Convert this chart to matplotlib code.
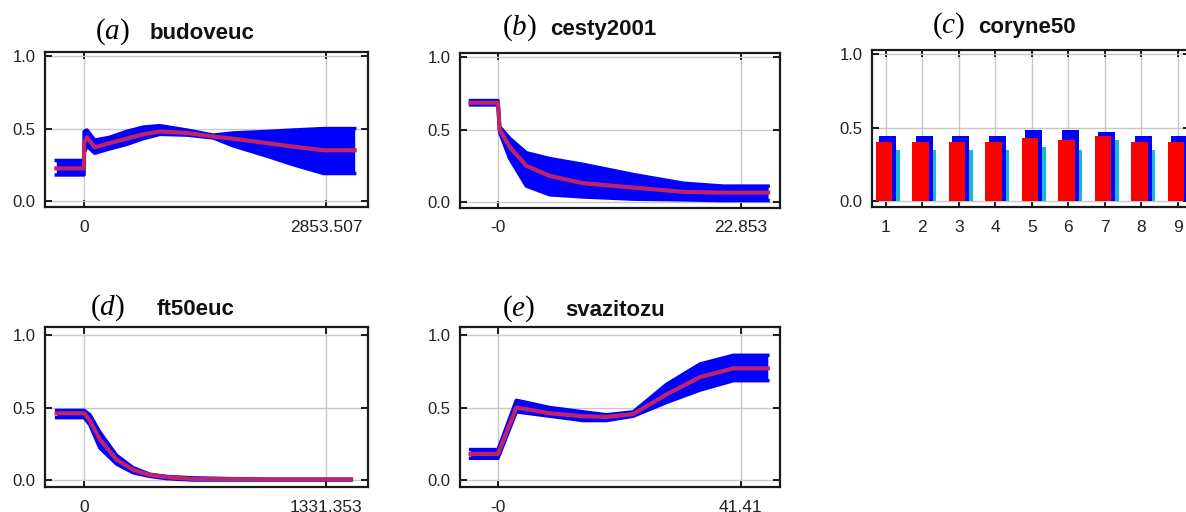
import matplotlib
matplotlib.use("Agg")
import matplotlib.pyplot as plt

plt.rcParams['font.family'] = ['Liberation Sans', 'DejaVu Sans']
plt.rcParams['mathtext.fontset'] = 'custom'
plt.rcParams['mathtext.rm'] = 'Liberation Serif'
plt.rcParams['mathtext.it'] = 'Liberation Serif:italic'

# (a) budoveuc
a_x = [-327, 0, 1, 35, 126, 303, 500, 698, 895, 1210, 1525, 1762, 2156, 2471, 2826, 3192]
a_mean = [0.225, 0.225, 0.40, 0.44, 0.37, 0.40, 0.43, 0.46, 0.48, 0.47, 0.445, 0.43, 0.40, 0.375, 0.35, 0.35]
a_hi = [0.28, 0.28, 0.48, 0.49, 0.42, 0.44, 0.48, 0.51, 0.52, 0.49, 0.455, 0.47, 0.48, 0.49, 0.50, 0.50]
a_lo = [0.18, 0.18, 0.33, 0.38, 0.33, 0.36, 0.39, 0.43, 0.46, 0.455, 0.435, 0.38, 0.31, 0.25, 0.19, 0.19]

# (b) cesty2001
b_x = [-2.58, 0, 0.16, 1.10, 2.67, 4.87, 8.01, 12.73, 17.44, 21.2, 25.4]
b_mean = [0.685, 0.685, 0.50, 0.38, 0.25, 0.18, 0.13, 0.10, 0.07, 0.065, 0.065]
b_hi = [0.70, 0.70, 0.52, 0.44, 0.34, 0.30, 0.26, 0.19, 0.13, 0.11, 0.11]
b_lo = [0.67, 0.67, 0.48, 0.30, 0.11, 0.05, 0.035, 0.02, 0.015, 0.01, 0.01]

# (c) coryne50
c_cats = [1, 2, 3, 4, 5, 6, 7, 8, 9]
c_red = [0.40, 0.40, 0.40, 0.40, 0.43, 0.415, 0.445, 0.40, 0.40]
c_blue = [0.445, 0.445, 0.445, 0.445, 0.485, 0.485, 0.47, 0.445, 0.445]
c_cyan = [0.35, 0.35, 0.35, 0.35, 0.365, 0.35, 0.415, 0.35, 0.35]

# (d) ft50euc
d_x = [-152, 0, 31, 86, 178, 269, 361, 452, 599, 1002, 1468]
d_mean = [0.46, 0.46, 0.41, 0.28, 0.14, 0.07, 0.035, 0.02, 0.007, 0.005, 0.005]
d_hi = [0.48, 0.48, 0.45, 0.33, 0.17, 0.085, 0.04, 0.025, 0.015, 0.005, 0.005]
d_lo = [0.43, 0.43, 0.38, 0.22, 0.11, 0.05, 0.025, 0.01, 0.0, 0.0, 0.0]

# (e) svazitozu
e_x = [-4.67, 0, 3.13, 8.83, 14.52, 18.51, 23.07, 28.76, 34.46, 40.16, 46.02]
e_mean = [0.18, 0.18, 0.50, 0.46, 0.44, 0.435, 0.455, 0.59, 0.71, 0.77, 0.77]
e_hi = [0.21, 0.21, 0.55, 0.50, 0.47, 0.45, 0.47, 0.66, 0.80, 0.86, 0.86]
e_lo = [0.15, 0.15, 0.47, 0.44, 0.41, 0.41, 0.44, 0.535, 0.62, 0.685, 0.685]

W, H = 1186, 512
fig = plt.figure(figsize=(W / 100, H / 100), dpi=100)

BLUE = '#0000ff'
MEAN = '#c02466'


def add_box(l, t, r, b):
    return fig.add_axes([l / W, 1 - b / H, (r - l) / W, (b - t) / H])


def style(ax, ylim):
    for s in ax.spines.values():
        s.set_linewidth(1.6)
        s.set_color('#1a1a1a')
    ax.tick_params(direction='in', length=5, width=1.4, top=True, right=True,
                   labelcolor='#222222', color='#1a1a1a')
    ax.tick_params(axis='x', pad=9, labelsize=12.5)
    ax.tick_params(axis='y', pad=7, labelsize=12)
    ax.set_ylim(ylim)
    ax.set_yticks([0, 0.5, 1.0])
    ax.set_yticklabels(['0.0', '0.5', '1.0'])
    ax.grid(True, color='#c8c8c8', lw=1)
    ax.set_axisbelow(True)


def band(ax, x, lo, hi, mean, xlabs, xmax, xlim, ylim):
    style(ax, ylim)
    ax.fill_between(x, lo, hi, color=BLUE, lw=0)
    ax.plot(x, lo, color=BLUE, lw=2.5)
    ax.plot(x, hi, color=BLUE, lw=2.5)
    ax.plot(x, mean, color=MEAN, lw=3)
    ax.set_xlim(xlim)
    ax.set_xticks([0, xmax])
    ax.set_xticklabels(xlabs)


def title(x, y, tag, name, gap):
    fig.text(x / W, 1 - y / H, '$(' + tag + ')$', fontsize=21, va='baseline')
    fig.text((x + gap) / W, 1 - y / H, name, fontsize=16, fontweight='bold',
             va='baseline', color='#111111')


top_ylim = (-0.041, 1.028)
bot_ylim = (-0.048, 1.055)

ax = add_box(45, 52, 368, 207)
band(ax, a_x, a_lo, a_hi, a_mean, ['0', '2853.507'], 2853.507, (-460, 3349), top_ylim)
title(95, 39, 'a', 'budoveuc', 55)

ax = add_box(460, 53, 780, 208)
band(ax, b_x, b_lo, b_hi, b_mean, ['-0', '22.853'], 22.853, (-3.57, 26.52), top_ylim)
title(502, 35, 'b', 'cesty2001', 48)

ax = add_box(872, 50, 1190, 207)
style(ax, top_ylim)
w = 0.46
ax.bar([c + 0.15 for c in c_cats], c_cyan, width=w, color='#19b9d6', lw=0)
ax.bar([c + 0.05 for c in c_cats], c_blue, width=w, color=BLUE, lw=0)
ax.bar([c - 0.05 for c in c_cats], c_red, width=w, color='#ff0000', lw=0)
ax.set_xlim(0.62, 0.62 + 318 / 36.5)
ax.set_xticks(c_cats)
ax.set_xticklabels([str(c) for c in c_cats])
title(932, 33, 'c', 'coryne50', 46)

ax = add_box(45, 327, 368, 487)
band(ax, d_x, d_lo, d_hi, d_mean, ['0', '1331.353'], 1331.353, (-216, 1561), bot_ylim)
title(90, 315, 'd', 'ft50euc', 67)

ax = add_box(460, 327, 780, 487)
band(ax, e_x, e_lo, e_hi, e_mean, ['-0', '41.41'], 41.41, (-6.48, 48.1), bot_ylim)
title(502, 316, 'e', 'svazitozu', 63)

fig.savefig('out.png', dpi=100)
